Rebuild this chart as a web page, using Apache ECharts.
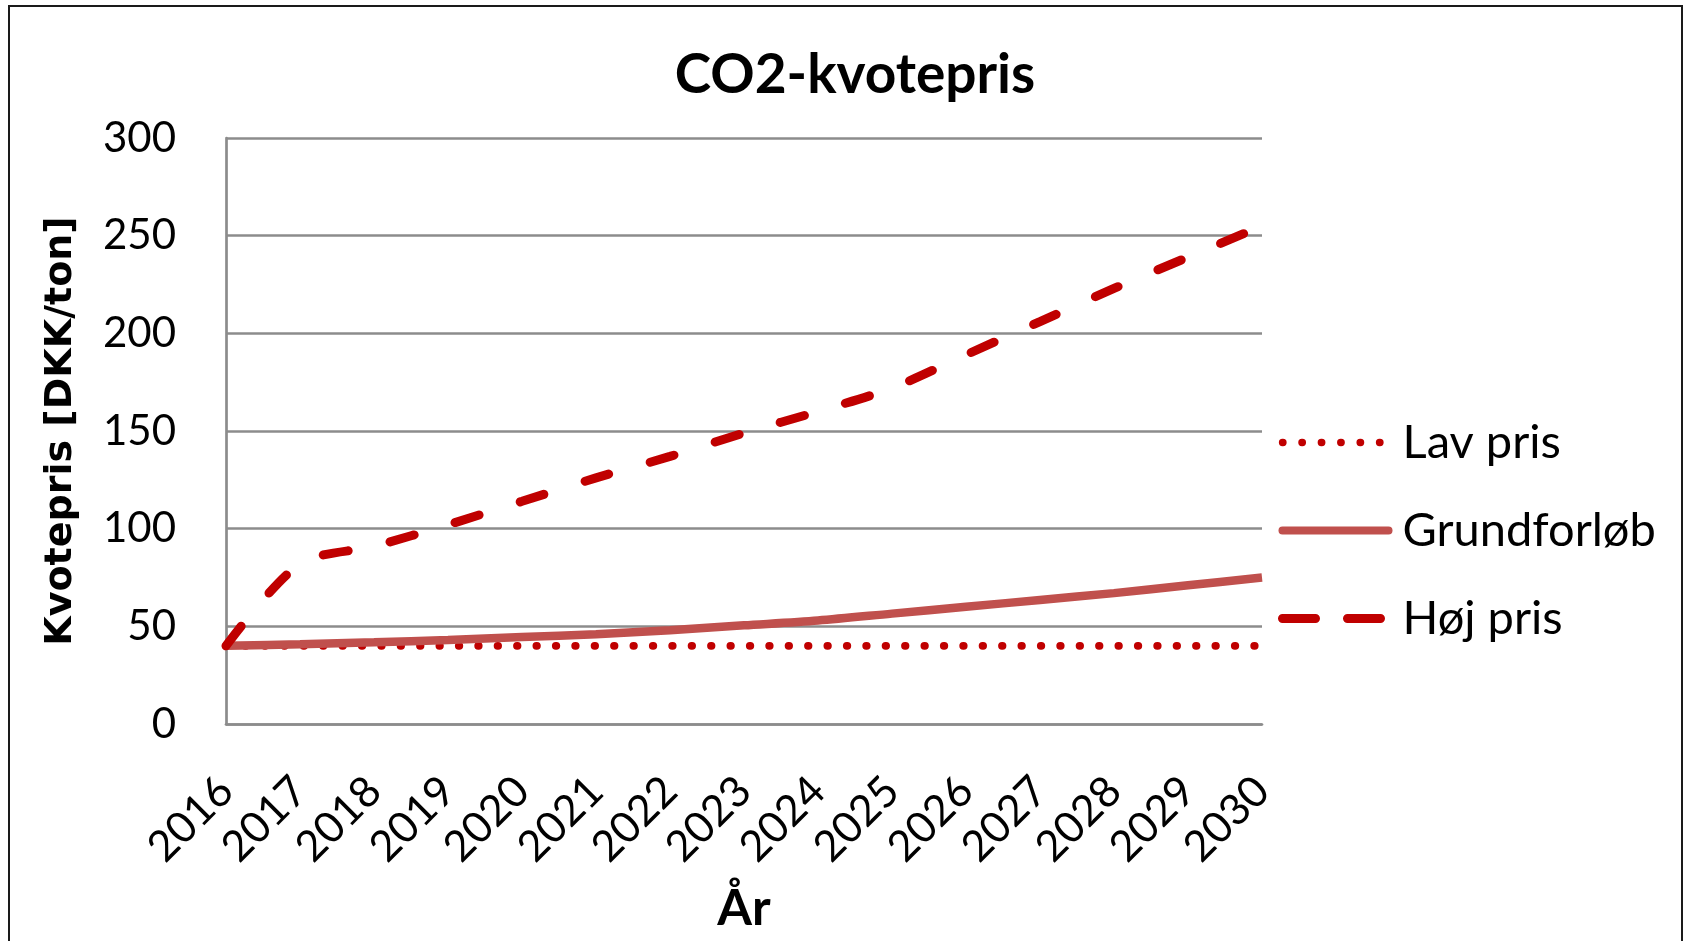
<!DOCTYPE html>
<html>
<head>
<meta charset="utf-8">
<script src="https://cdn.jsdelivr.net/npm/echarts@6/dist/echarts.min.js"></script>
<style>
html,body{margin:0;padding:0;background:#fff;}
#chart{width:1691px;height:941px;}
</style>
</head>
<body>
<div id="chart"></div>
<script>
// Data
const years = ['2016','2017','2018','2019','2020','2021','2022','2023','2024','2025','2026','2027','2028','2029','2030'];
const lavPris = [40,40,40,40,40,40,40,40,40,40,40,40,40,40,40];
const grundforlob = [40,40.8,41.8,43,44.5,46,48,50.5,53,56.5,60,63.5,67,71,75];
const hojPris = [40,82,91,102,114,126,137,149,160,172,189,206,223,239,255];
const yTicks = {min:0, max:300, interval:50};

const chart = echarts.init(document.getElementById('chart'));
const calibriLike = 'Lato, "Open Sans", "Liberation Sans", sans-serif';
const gridGrey = '#8c8c8c';
const hidden = {opacity:0, color:'rgba(0,0,0,0)', borderWidth:0};

chart.setOption({
  animation:false,
  backgroundColor:'#ffffff',
  title:{
    text:'CO2-kvotepris',
    left:850, top:43, textAlign:'center',
    textStyle:{fontFamily:calibriLike, fontWeight:'bold', fontSize:55, color:'#000'}
  },
  graphic:[{
    type:'rect', shape:{x:9, y:6, width:1673, height:1100},
    style:{fill:'none', stroke:'#1a1a1a', lineWidth:2}, silent:true
  }],
  grid:{left:226, right:429, top:138, bottom:217},
  legend:{
    orient:'vertical', left:1273, top:414,
    itemWidth:106, itemHeight:20, itemGap:41,
    textStyle:{fontFamily:calibriLike, fontSize:47, lineHeight:47, color:'#000', padding:[0,0,0,9]},
    data:[
      {name:'Lav pris', itemStyle:hidden, lineStyle:{color:'#C00000', width:7.3, type:[0.5,18.9], cap:'round'}},
      {name:'Grundforløb', itemStyle:hidden, lineStyle:{color:'#C0504D', width:8, type:'solid', cap:'round'}},
      {name:'Høj pris', itemStyle:hidden, lineStyle:{color:'#C00000', width:9, type:[33,32], cap:'round'}}
    ]
  },
  xAxis:{
    type:'category', data:years, boundaryGap:false,
    name:'År', nameLocation:'middle', nameGap:160,
    nameTextStyle:{fontFamily:calibriLike, fontWeight:'bold', fontSize:50, color:'#000'},
    axisLine:{lineStyle:{color:gridGrey, width:2.7}},
    axisTick:{show:false},
    axisLabel:{rotate:45, margin:60, fontFamily:calibriLike, fontSize:43, color:'#000', interval:0}
  },
  yAxis:{
    type:'value', min:yTicks.min, max:yTicks.max, interval:yTicks.interval,
    name:'Kvotepris [DKK/ton]', nameLocation:'middle', nameRotate:90, nameGap:146,
    nameTextStyle:{fontFamily:'"DejaVu Sans", Verdana, sans-serif', fontWeight:'bold', fontSize:38, color:'#000'},
    axisLine:{show:true, lineStyle:{color:gridGrey, width:2.7}},
    axisTick:{show:false},
    splitLine:{lineStyle:{color:gridGrey, width:2.7}},
    axisLabel:{margin:50, fontFamily:calibriLike, fontSize:42, color:'#000'}
  },
  series:[
    {
      name:'Lav pris', type:'line', data:lavPris, symbol:'none', showSymbol:false,
      itemStyle:{color:'#C00000'},
      lineStyle:{color:'#C00000', width:7.8, type:[0.5,18.9], cap:'round'}
    },
    {
      name:'Grundforløb', type:'line', data:grundforlob, symbol:'none', showSymbol:false, smooth:0.3,
      itemStyle:{color:'#C0504D'},
      lineStyle:{color:'#C0504D', width:8.5}
    },
    {
      name:'Høj pris', type:'line', data:hojPris, symbol:'none', showSymbol:false, smooth:0.3,
      itemStyle:{color:'#C00000'},
      lineStyle:{color:'#C00000', width:9, type:[25,43], cap:'round'}
    }
  ]
});
</script>
</body>
</html>
